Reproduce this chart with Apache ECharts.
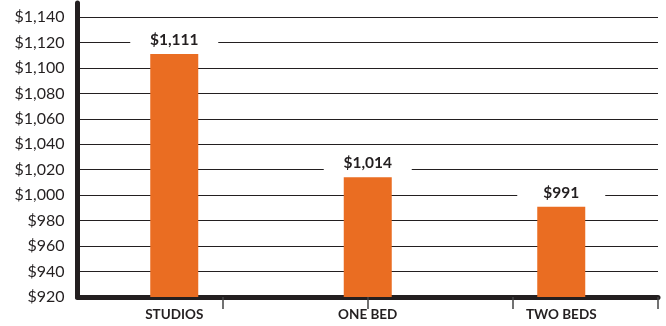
<!DOCTYPE html>
<html>
<head>
<meta charset="utf-8">
<script src="https://cdn.jsdelivr.net/npm/echarts@6/dist/echarts.min.js"></script>
<style>
  html, body { margin: 0; padding: 0; background: #ffffff; }
  #chart { width: 666px; height: 326px; }
</style>
</head>
<body>
<div id="chart"></div>
<script>
// Average asking rent by unit type
const categories = ['STUDIOS', 'ONE BED', 'TWO BEDS'];
const rents = [1111, 1014, 991];
const yMin = 920;
const yTop = 1151;       // axis runs a little past the last labelled line
const yStep = 20;

const ink = '#231f20';
const orange = '#ea6d22';
const font = 'Lato, "Noto Sans", sans-serif';

const chart = echarts.init(document.getElementById('chart'), null, { renderer: 'canvas' });

chart.setOption({
  animation: false,
  backgroundColor: '#ffffff',
  grid: { left: 77.5, right: 8, top: 3, bottom: 29, containLabel: false },
  xAxis: [
    {
      type: 'category',
      data: categories,
      position: 'bottom',
      axisLine: { show: true, onZero: false, lineStyle: { color: ink, width: 5 } },
      axisTick: { show: false },
      axisLabel: {
        color: ink, fontFamily: font, fontWeight: 'bold', fontSize: 13.5,
        margin: 11
      },
      splitLine: { show: false }
    },
    {
      // quarter-width tick marks along the baseline
      type: 'value',
      min: 0, max: 4, interval: 1,
      position: 'bottom',
      axisLine: { show: false },
      axisLabel: { show: false },
      splitLine: { show: false },
      axisTick: {
        show: true, inside: false, length: 12,
        customValues: [1, 2, 3, 4],
        lineStyle: { color: '#444', width: 1.5 }
      }
    }
  ],
  yAxis: {
    type: 'value',
    min: yMin,
    max: yTop,
    interval: yStep,
    axisLine: { show: true, lineStyle: { color: ink, width: 5 } },
    axisTick: { show: false },
    axisLabel: {
      showMaxLabel: false,
      color: ink, fontFamily: font, fontSize: 16, margin: 13,
      formatter: v => '$' + v.toLocaleString('en-US')
    },
    splitLine: {
      show: true, showMaxLine: false,
      lineStyle: { color: ink, width: 1.2 }
    }
  },
  series: [{
    type: 'bar',
    data: rents,
    xAxisIndex: 0,
    barWidth: 48,
    itemStyle: { color: orange },
    label: {
      show: true,
      position: 'top',
      distance: 14,
      width: 88,
      height: 16,
      align: 'center',
      verticalAlign: 'middle',
      backgroundColor: '#ffffff',
      color: ink,
      fontFamily: font,
      fontWeight: 'bold',
      fontSize: 15.5,
      formatter: p => '$' + p.value.toLocaleString('en-US')
    },
    z: 3
  }]
});
</script>
</body>
</html>
